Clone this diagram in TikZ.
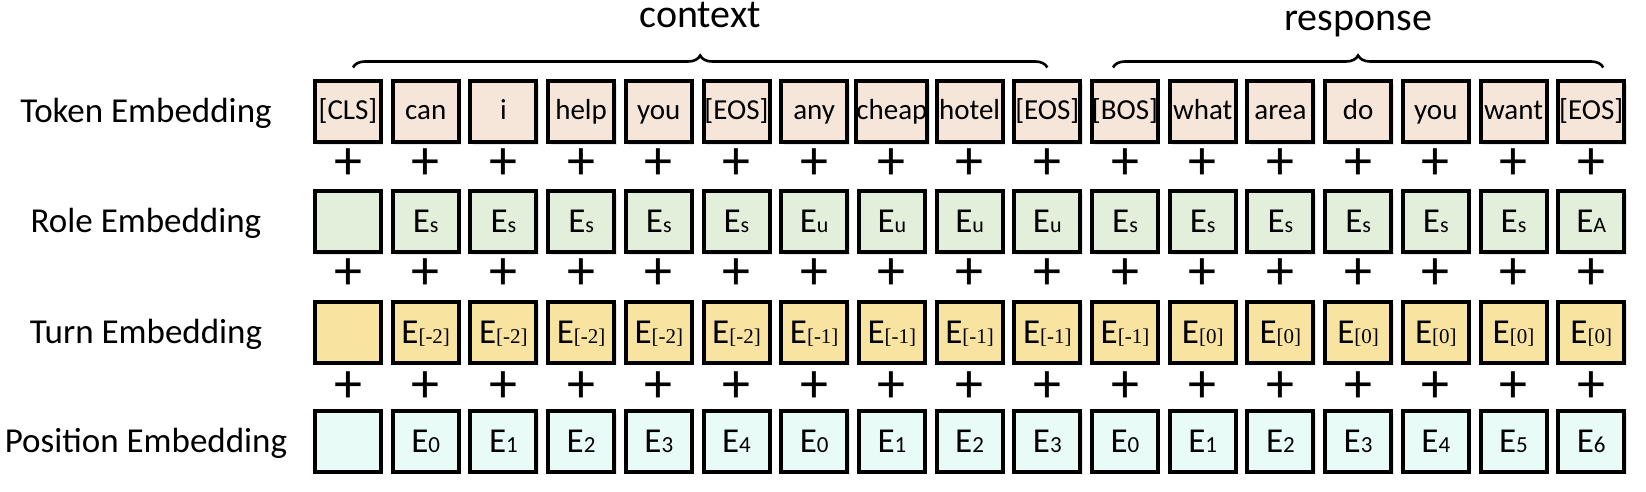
\documentclass[tikz,border=0pt]{standalone}
\usepackage{fontspec}
\setmainfont{Carlito}
\newfontfamily\bracketfont{Liberation Serif}
\usetikzlibrary{calc,positioning,shadows,decorations.pathreplacing}

\definecolor{tokfill}{RGB}{246,230,218}
\definecolor{rolefill}{RGB}{227,239,219}
\definecolor{turnfill}{RGB}{249,227,160}
\definecolor{posfill}{RGB}{232,251,247}

\newcommand{\bigE}{{\fontsize{17.5}{17.5}\selectfont E}}
\newcommand{\roleE}[1]{\bigE{\fontsize{11}{11}\selectfont #1}}
\newcommand{\turnE}[1]{\bigE{\fontsize{10.5}{10.5}\selectfont\bracketfont [#1]}}
\newcommand{\posE}[1]{\bigE{\fontsize{11.5}{11.5}\selectfont #1}}

\tikzset{
  embbox/.style={draw, line width=2pt, minimum width=33pt, minimum height=30.5pt, inner sep=0pt,
    drop shadow={opacity=0.2, shadow xshift=1.2pt, shadow yshift=-1.2pt}},
  tokbox/.style={embbox, fill=tokfill, font=\fontsize{14.5}{14.5}\selectfont, text height=9pt, text depth=1.5pt},
  rolebox/.style={embbox, fill=rolefill, text height=11pt, text depth=0pt},
  turnbox/.style={embbox, fill=turnfill, text height=11pt, text depth=0pt},
  posbox/.style={embbox, fill=posfill, text height=11pt, text depth=0pt},
  rowlabel/.style={font=\fontsize{17.5}{17.5}\selectfont, text height=11pt, text depth=0pt, inner sep=0pt},
  grouplabel/.style={font=\fontsize{20}{20}\selectfont, anchor=base, inner sep=0pt},
  plus/.style={font=\fontsize{28}{28}\selectfont, inner sep=0pt},
  groupbrace/.style={decorate, decoration={brace, amplitude=6pt}, line width=1.3pt}
}

\begin{document}
\begin{tikzpicture}[x=0.5pt, y=-0.5pt]
\useasboundingbox (0,0) rectangle (1646,492);

% row names
\node[rowlabel] (tokname)  at (146,112)   {Token Embedding};
\node[rowlabel] (rolename) at (146,222)   {Role Embedding};
\node[rowlabel] (turnname) at (146,332.5) {Turn Embedding};
\node[rowlabel] (posname)  at (146,441)   {Position Embedding};

% first column has empty boxes
\node[tokbox]  (tok0)  at (348,112)   {[CLS]};
\node[rolebox] (role0) at (348,222)   {};
\node[turnbox] (turn0) at (348,332.5) {};
\node[posbox]  (pos0)  at (348,441)   {};

\foreach \w [count=\i] in {can,i,help,you,{[EOS]},any,cheap,hotel,{[EOS]},{[BOS]},what,area,do,you,want,{[EOS]}}
  \node[tokbox] (tok\i) at ({348+77.7*\i},112) {\w};
\foreach \r [count=\i] in {s,s,s,s,s,u,u,u,u,s,s,s,s,s,s,A}
  \node[rolebox] (role\i) at ({348+77.7*\i},222) {\roleE{\r}};
\foreach \t [count=\i] in {-2,-2,-2,-2,-2,-1,-1,-1,-1,-1,0,0,0,0,0,0}
  \node[turnbox] (turn\i) at ({348+77.7*\i},332.5) {\turnE{\t}};
\foreach \p [count=\i] in {0,1,2,3,4,0,1,2,3,0,1,2,3,4,5,6}
  \node[posbox] (pos\i) at ({348+77.7*\i},441) {\posE{\p}};

% plus signs between the rows
\foreach \i in {0,...,16} {
  \node[plus] (pa\i) at ($(tok\i)!0.5!(role\i)+(0,-3)$)  {+};
  \node[plus] (pb\i) at ($(role\i)!0.5!(turn\i)+(0,-3)$) {+};
  \node[plus] (pc\i) at ($(turn\i)!0.5!(pos\i)$)         {+};
}

% braces
\coordinate (ctxl) at ($(tok0.north)+(5,-12)$);
\coordinate (ctxr) at ($(tok9.north)+(0,-12)$);
\coordinate (rspl) at ($(tok10.north)+(-12,-12)$);
\coordinate (rspr) at ($(tok16.north)+(12,-12)$);
\draw[groupbrace] (ctxl) -- (ctxr);
\draw[groupbrace] (rspl) -- (rspr);
\node[grouplabel] (ctxname) at ($(ctxl)!0.5!(ctxr)+(0,-40)$) {context};
\node[grouplabel] (rspname) at ($(rspl)!0.5!(rspr)+(0,-37)$) {response};
\end{tikzpicture}
\end{document}
